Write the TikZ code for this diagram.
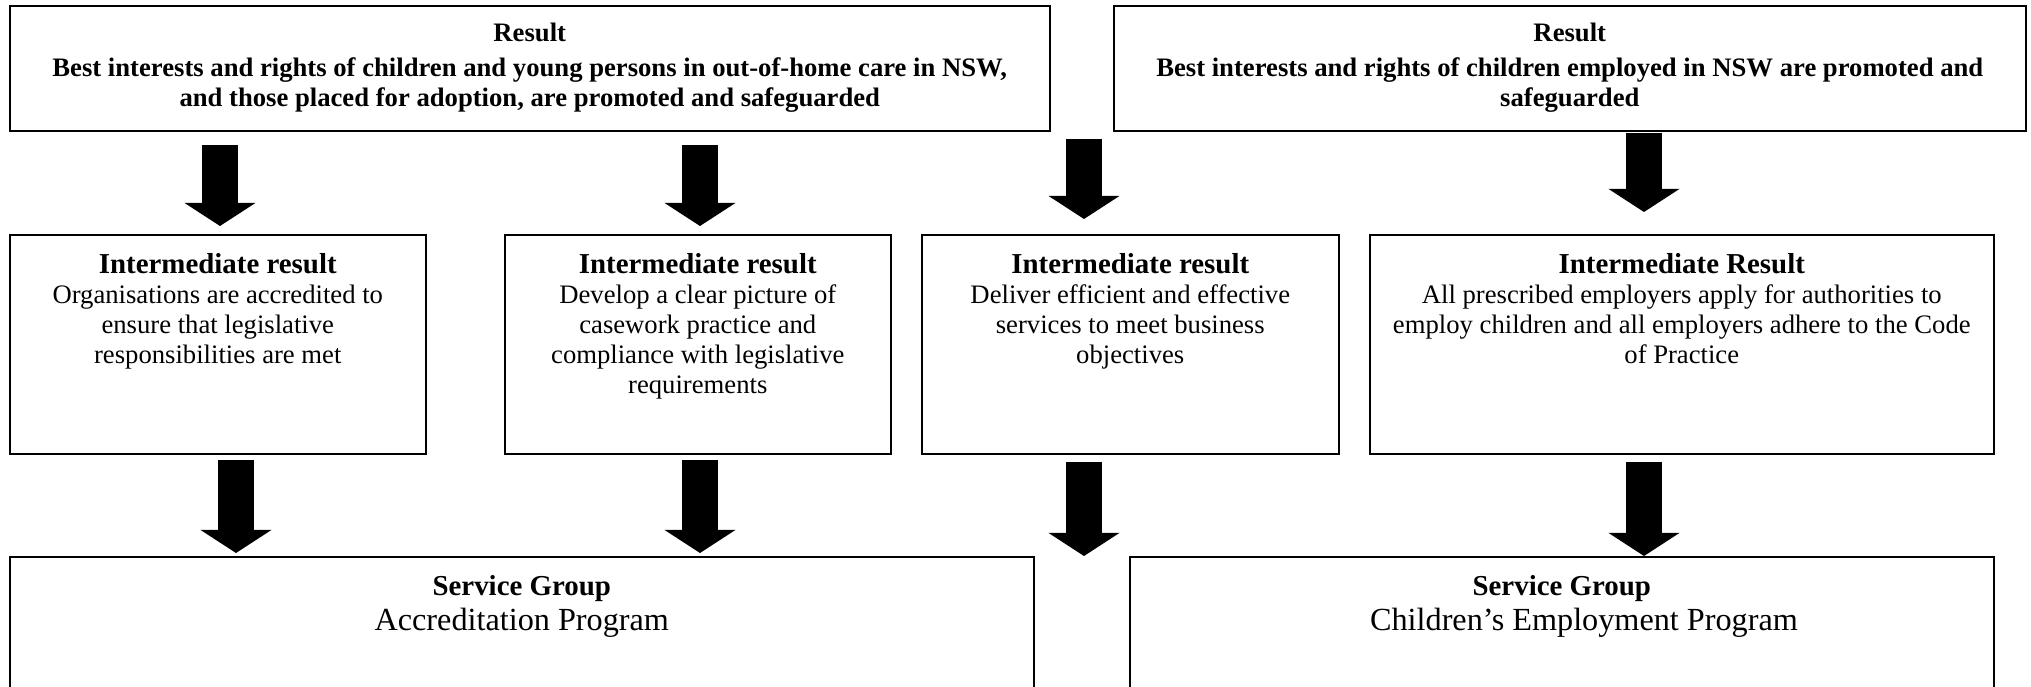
\documentclass[tikz,border=0pt]{standalone}
\usepackage{fontspec}
\setmainfont{Liberation Serif}
\usetikzlibrary{positioning,arrows.meta}

\newcommand\boxtitle[1]{{\fontsize{13}{15}\selectfont\bfseries #1}}

\tikzset{
  box/.style={draw, line width=0.7pt, anchor=north west, inner sep=0pt},
  boxtext/.style={align=center, inner sep=0pt, font=\fontsize{12}{13.5}\selectfont},
  bigarrow/.style={line width=16.6pt, -{Triangle[width=32pt,length=10.4pt,line width=0pt]}},
}

\begin{document}
\begin{tikzpicture}[x=0.45pt, y=-0.45pt]
\clip (0,0) rectangle (2031,687);

% results
\node[box, minimum width=468pt, minimum height=56.25pt] (r1) at (9,5) {};
\node[box, minimum width=410.4pt, minimum height=56.25pt] (r2) at (1113,5) {};
\node[boxtext, font=\fontsize{12}{13.5}\selectfont\bfseries, below=8pt of r1.north] (r1t)
  {Result\\[2pt]
   Best interests and rights of children and young persons in out-of-home care in NSW,\\
   and those placed for adoption, are promoted and safeguarded};
\node[boxtext, font=\fontsize{12}{13.5}\selectfont\bfseries, below=8pt of r2.north] (r2t)
  {Result\\[2pt]
   Best interests and rights of children employed in NSW are promoted and\\
   safeguarded};

% intermediate results
\node[box, minimum width=187.2pt, minimum height=98.55pt] (i1) at (9,234) {};
\node[box, minimum width=173.7pt, minimum height=98.55pt] (i2) at (504,234) {};
\node[box, minimum width=187.65pt, minimum height=98.55pt] (i3) at (921,234) {};
\node[box, minimum width=280.8pt, minimum height=98.55pt] (i4) at (1369,234) {};
\node[boxtext, below=8.5pt of i1.north] (i1t)
  {\boxtitle{Intermediate result}\\ Organisations are accredited to\\ ensure that legislative\\
   responsibilities are met};
\node[boxtext, below=8.5pt of i2.north] (i2t)
  {\boxtitle{Intermediate result}\\ Develop a clear picture of\\ casework practice and\\
   compliance with legislative\\ requirements};
\node[boxtext, below=8.5pt of i3.north] (i3t)
  {\boxtitle{Intermediate result}\\ Deliver efficient and effective\\ services to meet business\\
   objectives};
\node[boxtext, below=8.5pt of i4.north] (i4t)
  {\boxtitle{Intermediate Result}\\ All prescribed employers apply for authorities to\\
   employ children and all employers adhere to the Code\\ of Practice};

% service groups
\node[box, minimum width=460.8pt, minimum height=90pt] (s1) at (9,556) {};
\node[box, minimum width=388.8pt, minimum height=90pt] (s2) at (1129,556) {};
\node[boxtext, below=8.5pt of s1.north] (s1t)
  {\boxtitle{Service Group}\\[2.5pt]
   {\fontsize{14.5}{16.5}\selectfont Accreditation Program}};
\node[boxtext, below=8.5pt of s2.north] (s2t)
  {\boxtitle{Service Group}\\[2.5pt]
   {\fontsize{14.5}{16.5}\selectfont\hspace*{20pt}Children’s Employment Program}};

% arrows
\draw[bigarrow, shorten <=5.85pt, shorten >=3.6pt] (220,0 |- r1.south) -- (220,0 |- i1.north);
\draw[bigarrow, shorten <=5.85pt, shorten >=3.6pt] (700,0 |- r1.south) -- (700,0 |- i2.north);
\draw[bigarrow, shorten <=3.15pt, shorten >=6.75pt] (1084,0 |- r1.south) -- (1084,0 |- i3.north);
\draw[bigarrow, shorten <=0.45pt, shorten >=9.9pt] (1644,0 |- r2.south) -- (1644,0 |- i4.north);
\draw[bigarrow, shorten <=2.25pt, shorten >=1.35pt] (236,0 |- i1.south) -- (236,0 |- s1.north);
\draw[bigarrow, shorten <=2.25pt, shorten >=1.35pt] (700,0 |- i2.south) -- (700,0 |- s1.north);
\draw[bigarrow, shorten <=3.15pt] (1084,0 |- i3.south) -- (1084,0 |- s1.north);
\draw[bigarrow, shorten <=3.15pt] (1644,0 |- i4.south) -- (1644,0 |- s2.north);
\end{tikzpicture}
\end{document}
